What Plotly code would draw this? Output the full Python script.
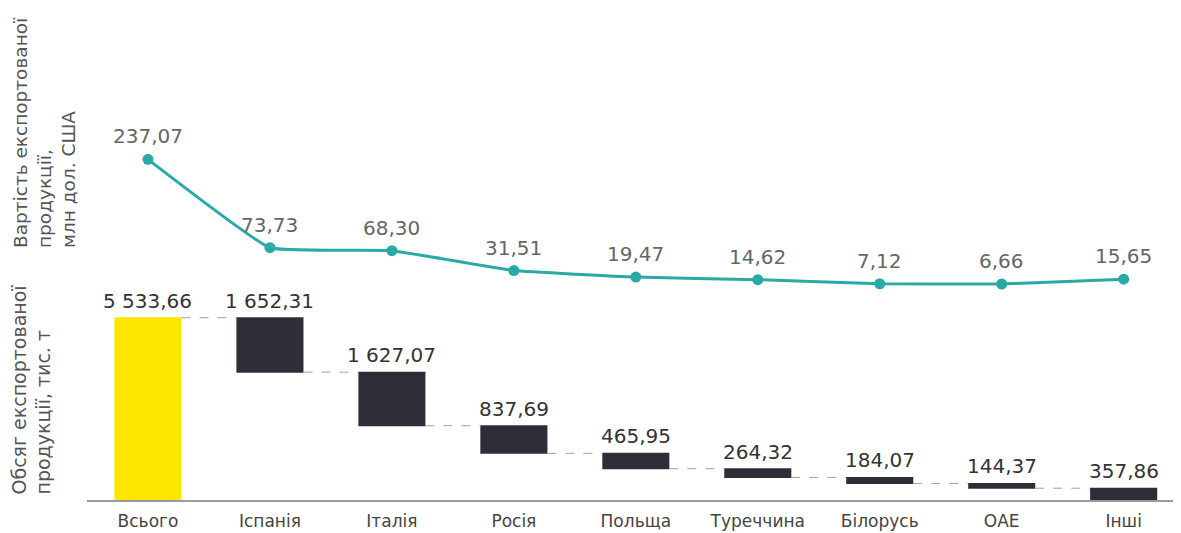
import plotly.graph_objects as go

categories = ["Всього", "Іспанія", "Італія", "Росія", "Польща", "Туреччина", "Білорусь", "ОАЕ", "Інші"]
volume = [5533.66, 1652.31, 1627.07, 837.69, 465.95, 264.32, 184.07, 144.37, 357.86]
volume_labels = ["5 533,66", "1 652,31", "1 627,07", "837,69", "465,95", "264,32", "184,07", "144,37", "357,86"]
value = [237.07, 73.73, 68.30, 31.51, 19.47, 14.62, 7.12, 6.66, 15.65]
value_labels = ["237,07", "73,73", "68,30", "31,51", "19,47", "14,62", "7,12", "6,66", "15,65"]

YELLOW = "#FFE600"
DARK = "#2E2E38"
TEAL = "#2AAAA6"
FONT = "DejaVu Sans"

x = list(range(len(categories)))
measures = ["absolute"] + ["relative"] * (len(categories) - 1)
wf_values = [volume[0]] + [-v for v in volume[1:]]

# bar tops (running total before each step)
tops = []
running = 0.0
for m, v in zip(measures, wf_values):
    if m == "absolute":
        running = v
        tops.append(v)
    else:
        tops.append(running)
        running += v

fig = go.Figure()
fig.add_trace(go.Waterfall(
    x=x, y=wf_values, measure=measures,
    width=0.55,
    totals=dict(marker=dict(color=YELLOW)),
    decreasing=dict(marker=dict(color=DARK)),
    increasing=dict(marker=dict(color=DARK)),
    connector=dict(line=dict(color="#A0A0A0", width=1, dash="dash")),
    xaxis="x", yaxis="y", hoverinfo="skip", showlegend=False,
))

for i, (t, lab) in enumerate(zip(tops, volume_labels)):
    fig.add_annotation(x=i, y=t, xref="x", yref="y", text=lab, showarrow=False,
                       yanchor="bottom", yshift=3,
                       font=dict(family=FONT, size=20, color="#333333"))

fig.add_trace(go.Scatter(
    x=x, y=value, mode="lines+markers",
    line=dict(color=TEAL, width=3, shape="spline", smoothing=0.3),
    marker=dict(color=TEAL, size=11),
    xaxis="x", yaxis="y2", hoverinfo="skip", showlegend=False,
))
for i, (v, lab) in enumerate(zip(value, value_labels)):
    fig.add_annotation(x=i, y=v, xref="x", yref="y2", text=lab, showarrow=False,
                       yanchor="middle", yshift=23,
                       font=dict(family=FONT, size=20, color="#666666"))

fig.add_annotation(xref="paper", yref="paper", x=-0.0384, y=0.748,
                   text="Вартість експортованої<br>продукції,<br>млн дол. США",
                   textangle=-90, align="left", showarrow=False,
                   xanchor="center", yanchor="middle",
                   font=dict(family=FONT, size=18.5, color="#555555"))
fig.add_annotation(xref="paper", yref="paper", x=-0.0507, y=0.2236,
                   text="Обсяг експортованої<br>продукції, тис. т",
                   textangle=-90, align="left", showarrow=False,
                   xanchor="center", yanchor="middle",
                   font=dict(family=FONT, size=19, color="#555555"))

fig.update_layout(
    width=1173, height=525,
    margin=dict(l=79, r=0, t=0, b=33),
    paper_bgcolor="white", plot_bgcolor="white",
    xaxis=dict(range=[-0.5, 8.47], tickmode="array", tickvals=x, ticktext=categories,
               showgrid=False, zeroline=False, showline=True, linecolor="#9A9A9A", linewidth=1.5,
               ticks="", ticklabelstandoff=5,
               tickfont=dict(family=FONT, size=17, color="#444444"), anchor="y"),
    yaxis=dict(domain=[0, 0.4065], range=[0, 6071], visible=False, showgrid=False, zeroline=False),
    yaxis2=dict(domain=[0.4065, 1.0], range=[-22.9, 516.8], visible=False, showgrid=False, zeroline=False),
)

fig.write_html("out.html")
